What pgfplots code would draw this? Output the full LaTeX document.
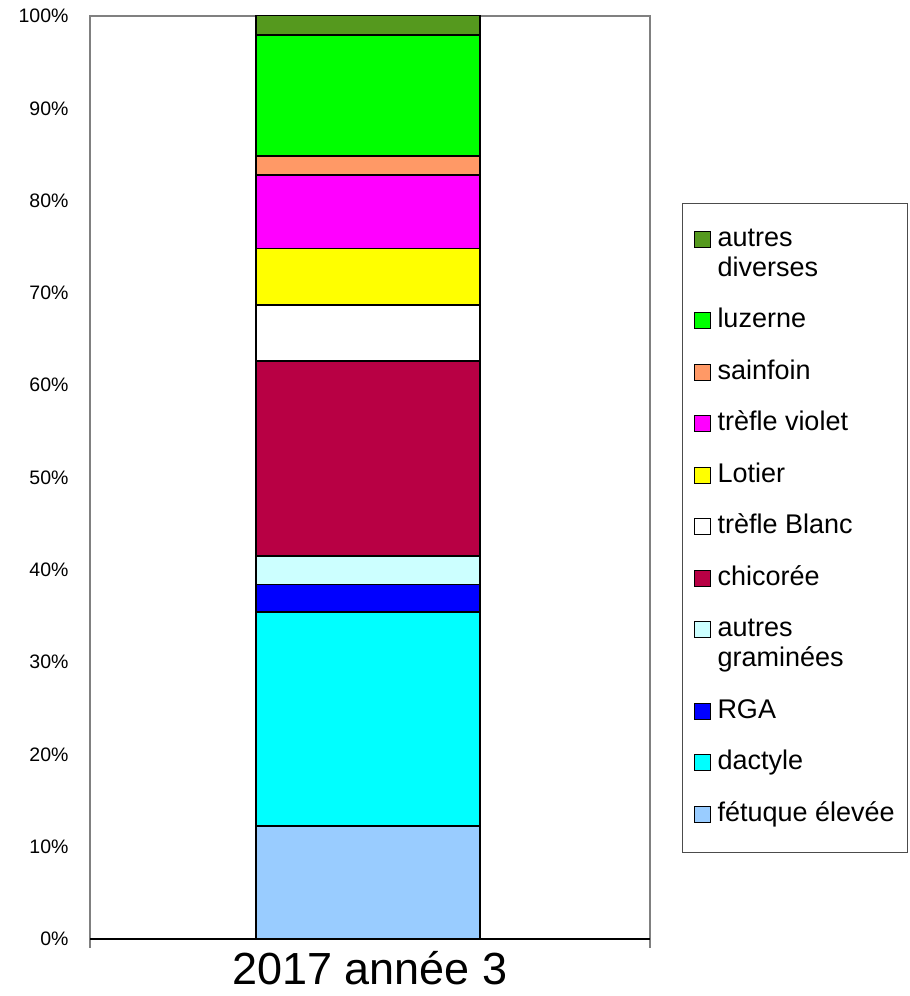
\documentclass[border=0pt]{standalone}
\usepackage{fontspec}
\setmainfont{Liberation Sans}
\usepackage{pgfplots}
\pgfplotsset{compat=1.18}

\definecolor{cautres}{RGB}{85,153,30}
\definecolor{cluz}{RGB}{0,255,0}
\definecolor{csain}{RGB}{255,153,102}
\definecolor{cviolet}{RGB}{255,0,255}
\definecolor{clotier}{RGB}{255,255,0}
\definecolor{cblanc}{RGB}{255,255,255}
\definecolor{cchico}{RGB}{184,0,68}
\definecolor{cgram}{RGB}{204,255,255}
\definecolor{crga}{RGB}{0,0,255}
\definecolor{cdact}{RGB}{0,255,255}
\definecolor{cfetu}{RGB}{153,204,255}

\pgfplotsset{
  sq/.style={fill=#1, draw=black, line width=1.8pt},
}
\newcommand{\two}[2]{\begin{tabular}[t]{@{}l@{}}#1\\#2\end{tabular}}

\begin{document}
\begin{tikzpicture}
\path[use as bounding box] (0,0) rectangle (910pt,996pt);
\begin{axis}[
    at={(90pt,57pt)}, anchor=south west,
    scale only axis,
    width=560pt, height=923pt,
    ybar stacked,
    bar width=224pt,
    xmin=0, xmax=1,
    ymin=0, ymax=100,
    ytick={0,10,...,100},
    yticklabel={\pgfmathprintnumber{\tick}\%},
    xtick={0,1}, xticklabels={},
    xtick pos=bottom,
    major tick length=9pt,
    ytick style={draw=none},
    xtick style={gray, line width=1.3pt},
    tick align=outside,
    axis line style={gray, line width=1.5pt},
    xlabel={2017 année 3},
    xlabel style={font=\fontsize{45}{50}\selectfont, yshift=7pt},
    yticklabel style={font=\fontsize{19.5}{23}\selectfont, xshift=-9pt},
    /pgf/number format/assume math mode=true,
    reverse legend,
    legend style={
        at={(rel axis cs:1,0)}, anchor=north west,
        xshift=32pt, yshift=736pt,
        font=\fontsize{27}{30}\selectfont,
        draw=black!70, line width=1pt,
        inner xsep=11pt, inner ysep=20pt,
        row sep=17.5pt,
        cells={anchor=base west},
        nodes={text depth=, inner sep=2pt, execute at begin node={\hspace{5pt}\strut}},
    },
    legend image code/.code={
        \draw[#1, line width=1pt] (0pt,-1pt) rectangle (16pt,15pt);
    },
]
\addplot[sq=cfetu]   coordinates {(0.496,12.2)};
\addplot[sq=cdact]   coordinates {(0.496,23.2)};
\addplot[sq=crga]    coordinates {(0.496,3.0)};
\addplot[sq=cgram]   coordinates {(0.496,3.1)};
\addplot[sq=cchico]  coordinates {(0.496,21.1)};
\addplot[sq=cblanc]  coordinates {(0.496,6.1)};
\addplot[sq=clotier] coordinates {(0.496,6.1)};
\addplot[sq=cviolet] coordinates {(0.496,8.0)};
\addplot[sq=csain]   coordinates {(0.496,2.0)};
\addplot[sq=cluz]    coordinates {(0.496,13.1)};
\addplot[sq=cautres] coordinates {(0.496,2.2)};
\legend{fétuque élevée, dactyle, RGA, \two{autres}{graminées}, chicorée,
        trèfle Blanc, Lotier, trèfle violet, sainfoin, luzerne, \two{autres}{diverses}}
\draw[black, line width=1.5pt] (rel axis cs:0,0) -- (rel axis cs:1,0);
\end{axis}
\end{tikzpicture}
\end{document}
